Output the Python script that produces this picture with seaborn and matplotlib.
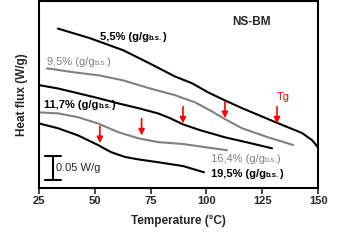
import numpy as np
import pandas as pd
import matplotlib
matplotlib.use('Agg')
import matplotlib.pyplot as plt
import seaborn as sns

# Curves (temperature in degC, heat flux in W/g, offset)
t_55 = [33.5, 47.8, 62.6, 74.7, 85.9, 93.5, 100.7, 108.3, 115.9, 130.7, 142.8, 147.3, 150.0]
hf_55 = [0.358, 0.338, 0.313, 0.285, 0.258, 0.244, 0.225, 0.208, 0.192, 0.163, 0.140, 0.125, 0.110]

t_95 = [28.6, 40.2, 52.3, 62.6, 74.7, 85.9, 94.9, 102.5, 108.3, 115.9, 127.6, 138.8]
hf_95 = [0.275, 0.267, 0.260, 0.250, 0.233, 0.219, 0.204, 0.185, 0.169, 0.150, 0.131, 0.115]

t_117 = [25.0, 33.5, 42.5, 51.4, 60.4, 69.4, 78.3, 83.7, 89.5, 97.1, 108.3, 119.5, 129.4]
hf_117 = [0.240, 0.233, 0.223, 0.213, 0.202, 0.192, 0.181, 0.171, 0.158, 0.146, 0.131, 0.119, 0.108]

t_164 = [25.0, 33.5, 42.5, 51.4, 60.4, 69.4, 78.3, 89.5, 109.2]
hf_164 = [0.183, 0.181, 0.173, 0.160, 0.142, 0.129, 0.121, 0.117, 0.104]

t_195 = [25.0, 33.5, 42.5, 51.4, 57.3, 63.5, 69.4, 78.3, 89.5, 98.9]
hf_195 = [0.160, 0.150, 0.135, 0.115, 0.100, 0.090, 0.085, 0.079, 0.071, 0.058]

# Tg arrows: position and heat flux at arrow tip
tg_t = [52.3, 71.0, 89.5, 108.3, 131.6]
tg_hf = [0.119, 0.135, 0.160, 0.171, 0.160]

series = ['5,5', '9,5', '11,7', '16,4', '19,5']
colors = {'5,5': 'black', '9,5': '#808080', '11,7': 'black',
          '16,4': '#808080', '19,5': 'black'}

frames = []
for name, t, hf in zip(series, [t_55, t_95, t_117, t_164, t_195],
                       [hf_55, hf_95, hf_117, hf_164, hf_195]):
    frames.append(pd.DataFrame({'T': t, 'hf': hf, 'sample': name}))
df = pd.concat(frames, ignore_index=True)

sns.set_style('white')
plt.rcParams['font.family'] = ['Liberation Sans', 'DejaVu Sans']

fig = plt.figure(figsize=(3.57, 2.43), dpi=100)
ax = fig.add_axes([0.109, 0.226, 0.782, 0.768])

sns.lineplot(data=df, x='T', y='hf', hue='sample', palette=colors,
             sort=False, estimator=None, linewidth=1.5, legend=False, ax=ax)
for line in ax.get_lines():
    line.set_solid_joinstyle('round')
    line.set_solid_capstyle('round')


def sub_label(x, y, name, color, weight):
    """'x% (g/g_b.s.)' with a real subscript"""
    t = ax.text(x, y, name + '% (g/g', fontsize=8, color=color,
                fontweight=weight, va='center')
    s = ax.annotate('b.s.', xy=(1, 0), xycoords=t, fontsize=5.5, color=color,
                    fontweight=weight, va='bottom', ha='left')
    ax.annotate(')', xy=(1, 0), xycoords=(s, t), fontsize=8, color=color,
                fontweight=weight, va='bottom', ha='left')


# Tg arrows
for t, hf in zip(tg_t, tg_hf):
    ax.annotate('', xy=(t, hf), xytext=(t, hf + 0.035),
                arrowprops=dict(arrowstyle='-|>', color='red', lw=1.2,
                                mutation_scale=9, shrinkA=0, shrinkB=0))
ax.text(134.3, 0.2146, 'Tg', color='red', fontsize=8, ha='center', va='center')

# curve labels
sub_label(52.3, 0.340, '5,5', 'black', 'bold')
sub_label(28.6, 0.2875, '9,5', '#808080', 'normal')
sub_label(27.2, 0.198, '11,7', 'black', 'bold')
sub_label(102, 0.0854, '16,4', '#808080', 'normal')
sub_label(102, 0.054, '19,5', 'black', 'bold')
ax.text(120.4, 0.371, 'NS-BM', fontsize=8.5, fontweight='bold',
        ha='center', va='center')

# scale bar 0.05 W/g
ax.plot([31.3, 31.3], [0.0417, 0.0917], color='black', lw=1.5)
ax.plot([27.7, 34.9], [0.0417, 0.0417], color='black', lw=1.5)
ax.plot([27.7, 34.9], [0.0917, 0.0917], color='black', lw=1.5)
ax.text(32.6, 0.0667, '0.05 W/g', fontsize=8, va='center')

ax.set_xlim(25, 150)
ax.set_ylim(0.025, 0.4146)
ax.set_xticks([25, 50, 75, 100, 125, 150])
ax.set_yticks([])
ax.tick_params(axis='x', direction='out', length=4, width=1.2, bottom=True,
               labelsize=8, pad=2)
for lbl in ax.get_xticklabels():
    lbl.set_fontweight('bold')
for s in ax.spines.values():
    s.set_color('black')
    s.set_linewidth(1.5)

ax.set_xlabel('Temperature (°C)', fontsize=8.5, fontweight='bold', labelpad=6)
ax.set_ylabel('Heat flux (W/g)', fontsize=8.5, fontweight='bold', labelpad=8)

fig.savefig('out.png', dpi=100)
